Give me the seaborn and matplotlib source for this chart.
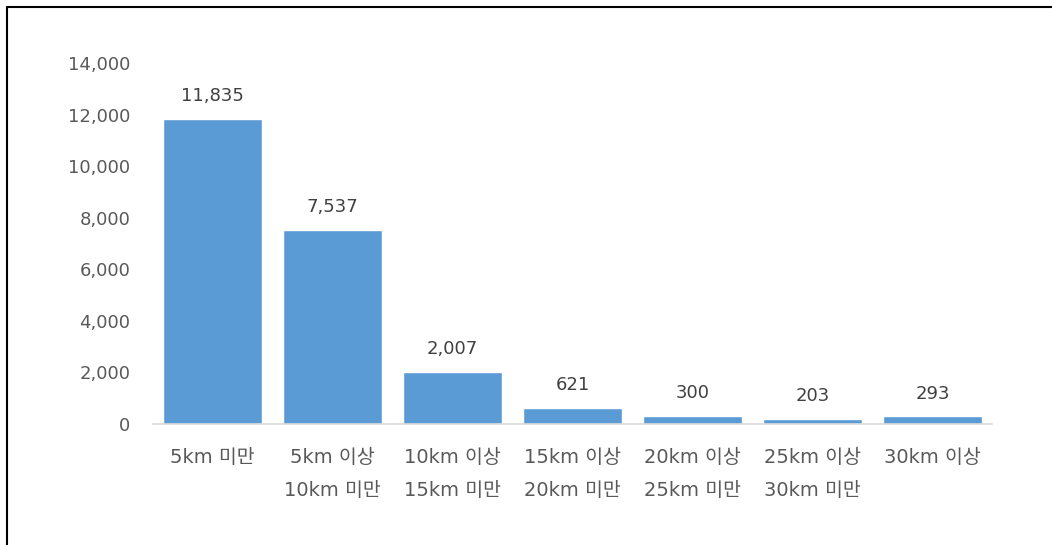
import matplotlib
matplotlib.use("Agg")
import matplotlib.pyplot as plt
import seaborn as sns
import pandas as pd
from matplotlib.lines import Line2D
from matplotlib.ticker import FuncFormatter

categories = ["5km 미만", "5km 이상\n10km 미만", "10km 이상\n15km 미만", "15km 이상\n20km 미만",
              "20km 이상\n25km 미만", "25km 이상\n30km 미만", "30km 이상"]
values = [11835, 7537, 2007, 621, 300, 203, 293]

sns.set_style("white")
plt.rcParams['font.family'] = ['DejaVu Sans', 'Noto Sans CJK KR']

df = pd.DataFrame({"cat": categories, "val": values})

fig = plt.figure(figsize=(10.52, 5.45), dpi=100)
ax = fig.add_axes([0.145, 0.222, 0.7984, 0.6624])

sns.barplot(data=df, x="cat", y="val", color="#5B9BD5", saturation=1, width=0.825, ax=ax)

ax.set_ylim(0, 14000)
ax.set_xlim(-0.5, len(categories) - 0.5)
ax.set_yticks(range(0, 14001, 2000))
ax.yaxis.set_major_formatter(FuncFormatter(lambda v, p: f"{int(v):,}"))
ax.set_xlabel("")
ax.set_ylabel("")
for s in ["top", "right", "left"]:
    ax.spines[s].set_visible(False)
ax.spines["bottom"].set_color("#D9D9D9")
ax.spines["bottom"].set_linewidth(1.2)
ax.tick_params(axis="both", length=0, colors="#595959", labelsize=13)
ax.tick_params(axis="x", labelsize=14)
ax.tick_params(axis="y", pad=16)
ax.tick_params(axis="x", pad=17)
for lbl in ax.get_xticklabels():
    lbl.set_linespacing(1.95)
    lbl.set_va("top")

for i, v in enumerate(values):
    ax.annotate(f"{v:,}", (i, v), xytext=(0, 10), textcoords="offset points",
                ha="center", va="bottom", fontsize=13, color="#404040")

fig.add_artist(Line2D([7/1052, 7/1052], [0, 1 - 7/545], color="black", lw=1.5, transform=fig.transFigure))
fig.add_artist(Line2D([7/1052, 1], [1 - 7/545, 1 - 7/545], color="black", lw=1.5, transform=fig.transFigure))

fig.savefig("out.png", dpi=100)
